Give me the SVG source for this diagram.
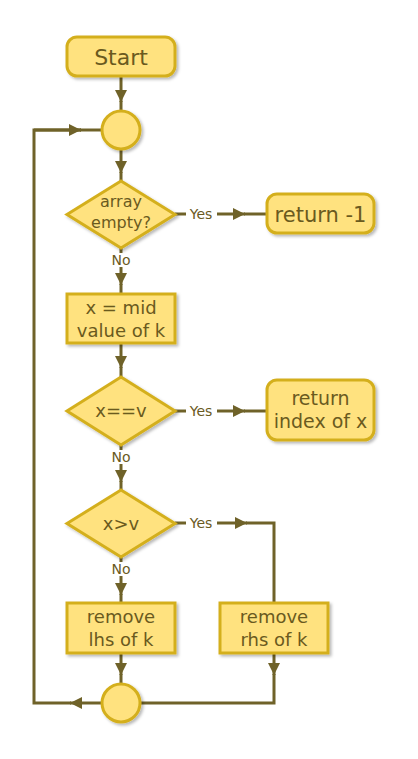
<svg xmlns="http://www.w3.org/2000/svg" width="418" height="759" viewBox="0 0 418 759">
<defs>
<filter id="sh" x="-20%" y="-20%" width="140%" height="140%">
<feDropShadow dx="2" dy="2" stdDeviation="1.5" flood-color="#000" flood-opacity="0.28"/>
</filter>
<marker id="ah" viewBox="0 0 12 12" refX="12" refY="6" markerWidth="12" markerHeight="12" markerUnits="userSpaceOnUse" orient="auto">
<path d="M0,0 L12,6 L0,12 z" fill="#6f6229"/>
</marker>
<style>
.n{fill:#ffe27f;stroke:#d4af1e;stroke-width:3;filter:url(#sh)}
.t{font-family:"DejaVu Sans","Liberation Sans",sans-serif;fill:#6a5a1e;text-anchor:middle}
.c path{fill:none;stroke:#6f6229;stroke-width:3}
.c path.a{marker-end:url(#ah)}
.l{font-family:"DejaVu Sans","Liberation Sans",sans-serif;fill:#6a5a1e;text-anchor:middle;font-size:14px}
</style>
</defs>
<rect width="418" height="759" fill="#fff"/>
<g id="connectors" class="c">
<path class="a" d="M121,76 L121,102"/><path d="M121,101 L121,111"/>
<path class="a" d="M121,149 L121,173"/><path d="M121,172 L121,181"/>
<path d="M175,214 L186,214"/>
<path class="a" d="M217,214 L245,214"/><path d="M244,214 L267,214"/>
<path d="M121,248 L121,253"/>
<path class="a" d="M121,267 L121,285"/><path d="M121,284 L121,294"/>
<path class="a" d="M121,343 L121,368"/><path d="M121,367 L121,377"/>
<path d="M175,411 L186,411"/>
<path class="a" d="M217,411 L245,411"/><path d="M244,411 L267,411"/>
<path d="M121,445 L121,450"/>
<path class="a" d="M121,464 L121,482"/><path d="M121,481 L121,490"/>
<path d="M175,523 L186,523"/>
<path class="a" d="M217,523 L247,523"/><path d="M246,523 L274,523 L274,603"/>
<path d="M121,557 L121,562"/>
<path class="a" d="M121,576 L121,595"/><path d="M121,594 L121,603"/>
<path class="a" d="M121,653 L121,675"/><path d="M121,674 L121,684"/>
<path class="a" d="M274,653 L274,675"/><path d="M274,674 L274,703 L140,703"/>
<path class="a" d="M102,703 L70,703"/><path d="M71,703 L34,703 L34,130 L81,130"/>
<path class="a" d="M34,130 L81,130"/><path d="M80,130 L102,130"/>
<text class="l" x="201" y="219">Yes</text>
<text class="l" x="121" y="265">No</text>
<text class="l" x="201" y="416">Yes</text>
<text class="l" x="121" y="462">No</text>
<text class="l" x="201" y="528">Yes</text>
<text class="l" x="121" y="574">No</text>
</g>
<g id="start">
<rect class="n" x="67" y="37" width="108" height="39" rx="10"/>
<text class="t" x="121" y="65" font-size="22">Start</text>
</g>
<g id="merge1">
<circle class="n" cx="121" cy="130" r="19"/>
</g>
<g id="empty">
<polygon class="n" points="121,181 175,214.5 121,248 67,214.5"/>
<text class="t" x="121" y="207" font-size="16">array</text>
<text class="t" x="121" y="228" font-size="16">empty?</text>
</g>
<g id="ret1">
<rect class="n" x="267" y="194" width="107" height="39" rx="10"/>
<text class="t" x="320.5" y="222" font-size="21">return -1</text>
</g>
<g id="mid">
<rect class="n" x="67" y="294" width="108" height="49"/>
<text class="t" x="121" y="314" font-size="18">x = mid</text>
<text class="t" x="121" y="337" font-size="18">value of k</text>
</g>
<g id="eq">
<polygon class="n" points="121,377 175,411 121,445 67,411"/>
<text class="t" x="121" y="417" font-size="18">x==v</text>
</g>
<g id="retx">
<rect class="n" x="267" y="380" width="107" height="60" rx="10"/>
<text class="t" x="320.5" y="405" font-size="19">return</text>
<text class="t" x="320.5" y="428" font-size="19">index of x</text>
</g>
<g id="gt">
<polygon class="n" points="121,490 175,523.5 121,557 67,523.5"/>
<text class="t" x="121" y="530" font-size="18">x&gt;v</text>
</g>
<g id="lhs">
<rect class="n" x="67" y="603" width="108" height="50"/>
<text class="t" x="121" y="623" font-size="18">remove</text>
<text class="t" x="121" y="646" font-size="18">lhs of k</text>
</g>
<g id="rhs">
<rect class="n" x="220" y="603" width="108" height="50"/>
<text class="t" x="274" y="623" font-size="18">remove</text>
<text class="t" x="274" y="646" font-size="18">rhs of k</text>
</g>
<g id="merge2">
<circle class="n" cx="121" cy="703" r="19"/>
</g>
</svg>
